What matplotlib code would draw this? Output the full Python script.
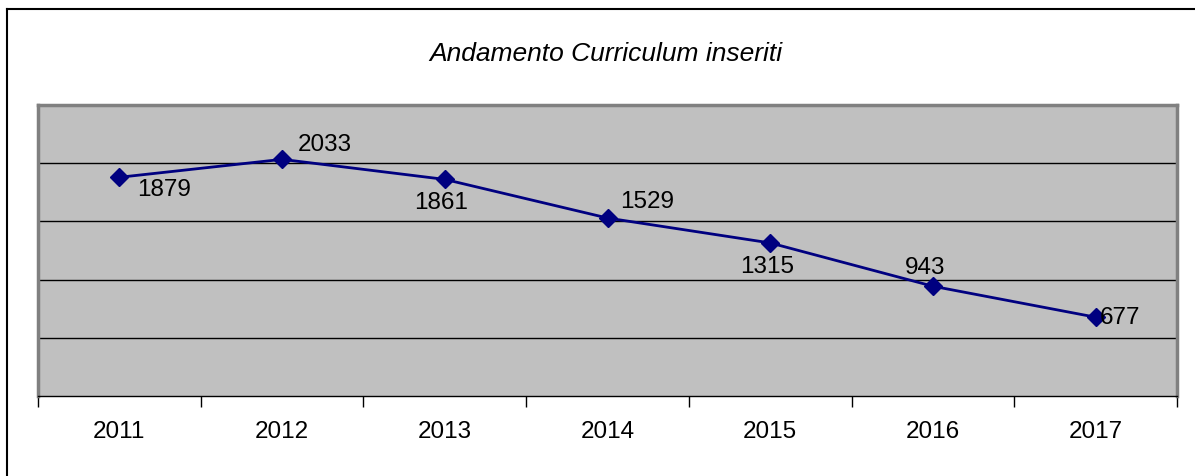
import matplotlib.pyplot as plt
from matplotlib.lines import Line2D

years = ['2011', '2012', '2013', '2014', '2015', '2016', '2017']
values = [1879, 2033, 1861, 1529, 1315, 943, 677]
# label offsets in pixels (dx, dy) and horizontal alignment, as in the original
labelOffsets = [(18, -12, 'left'), (16, 15, 'left'), (-4, -23, 'center'), (13, 17, 'left'),
                (-3, -23, 'center'), (-8, 19, 'center'), (4, 0, 'left')]

plt.rcParams['font.family'] = ['Liberation Sans', 'DejaVu Sans']

W, H = 1195, 477
fig = plt.figure(figsize=(W/100, H/100), dpi=100)
ax = fig.add_axes([38/W, 1-397/H, (1177-38)/W, (397-106)/H])
ax.set_facecolor('#c0c0c0')

x = list(range(len(years)))
ax.plot(x, values, color='#000080', lw=2, marker='D', ms=9, mec='#000080', mfc='#000080', zorder=3)
for i, v in enumerate(values):
  dx, dy, ha = labelOffsets[i]
  ax.annotate(str(v), (i, v), xytext=(dx*0.72, dy*0.72), textcoords='offset points',
              ha=ha, va='center', fontsize=17.5, color='black', zorder=4)

ax.set_xlim(-0.5, len(years)-0.5)
ax.set_ylim(0, 2500)
ax.set_yticks([500, 1000, 1500, 2000])
ax.yaxis.grid(True, color='black', lw=1)
ax.tick_params(axis='y', left=False, labelleft=False)
ax.set_xticks([i-0.5 for i in range(len(years)+1)], minor=False)
ax.set_xticklabels([])
ax.set_xticks(x, minor=True)
ax.set_xticklabels(years, minor=True, fontsize=17.5)
ax.tick_params(axis='x', which='minor', length=0, pad=17)
ax.tick_params(axis='x', which='major', length=8, width=1, color='black', direction='out')
for s in ['left', 'top', 'right']:
  ax.spines[s].set_color('#808080')
  ax.spines[s].set_linewidth(2.5)
ax.spines['bottom'].set_color('black')
ax.spines['bottom'].set_linewidth(1)

fig.text(606/W, 1-54/H, 'Andamento Curriculum inseriti', ha='center', va='center',
         fontsize=19, style='italic')

# outer chart frame (only left and top edges visible)
fig.add_artist(Line2D([7/W, 7/W], [0, 1-10/H], color='black', lw=1.5, transform=fig.transFigure))
fig.add_artist(Line2D([7/W, 1], [1-10/H, 1-10/H], color='black', lw=1.5, transform=fig.transFigure))

fig.savefig('out.png', dpi=100)
